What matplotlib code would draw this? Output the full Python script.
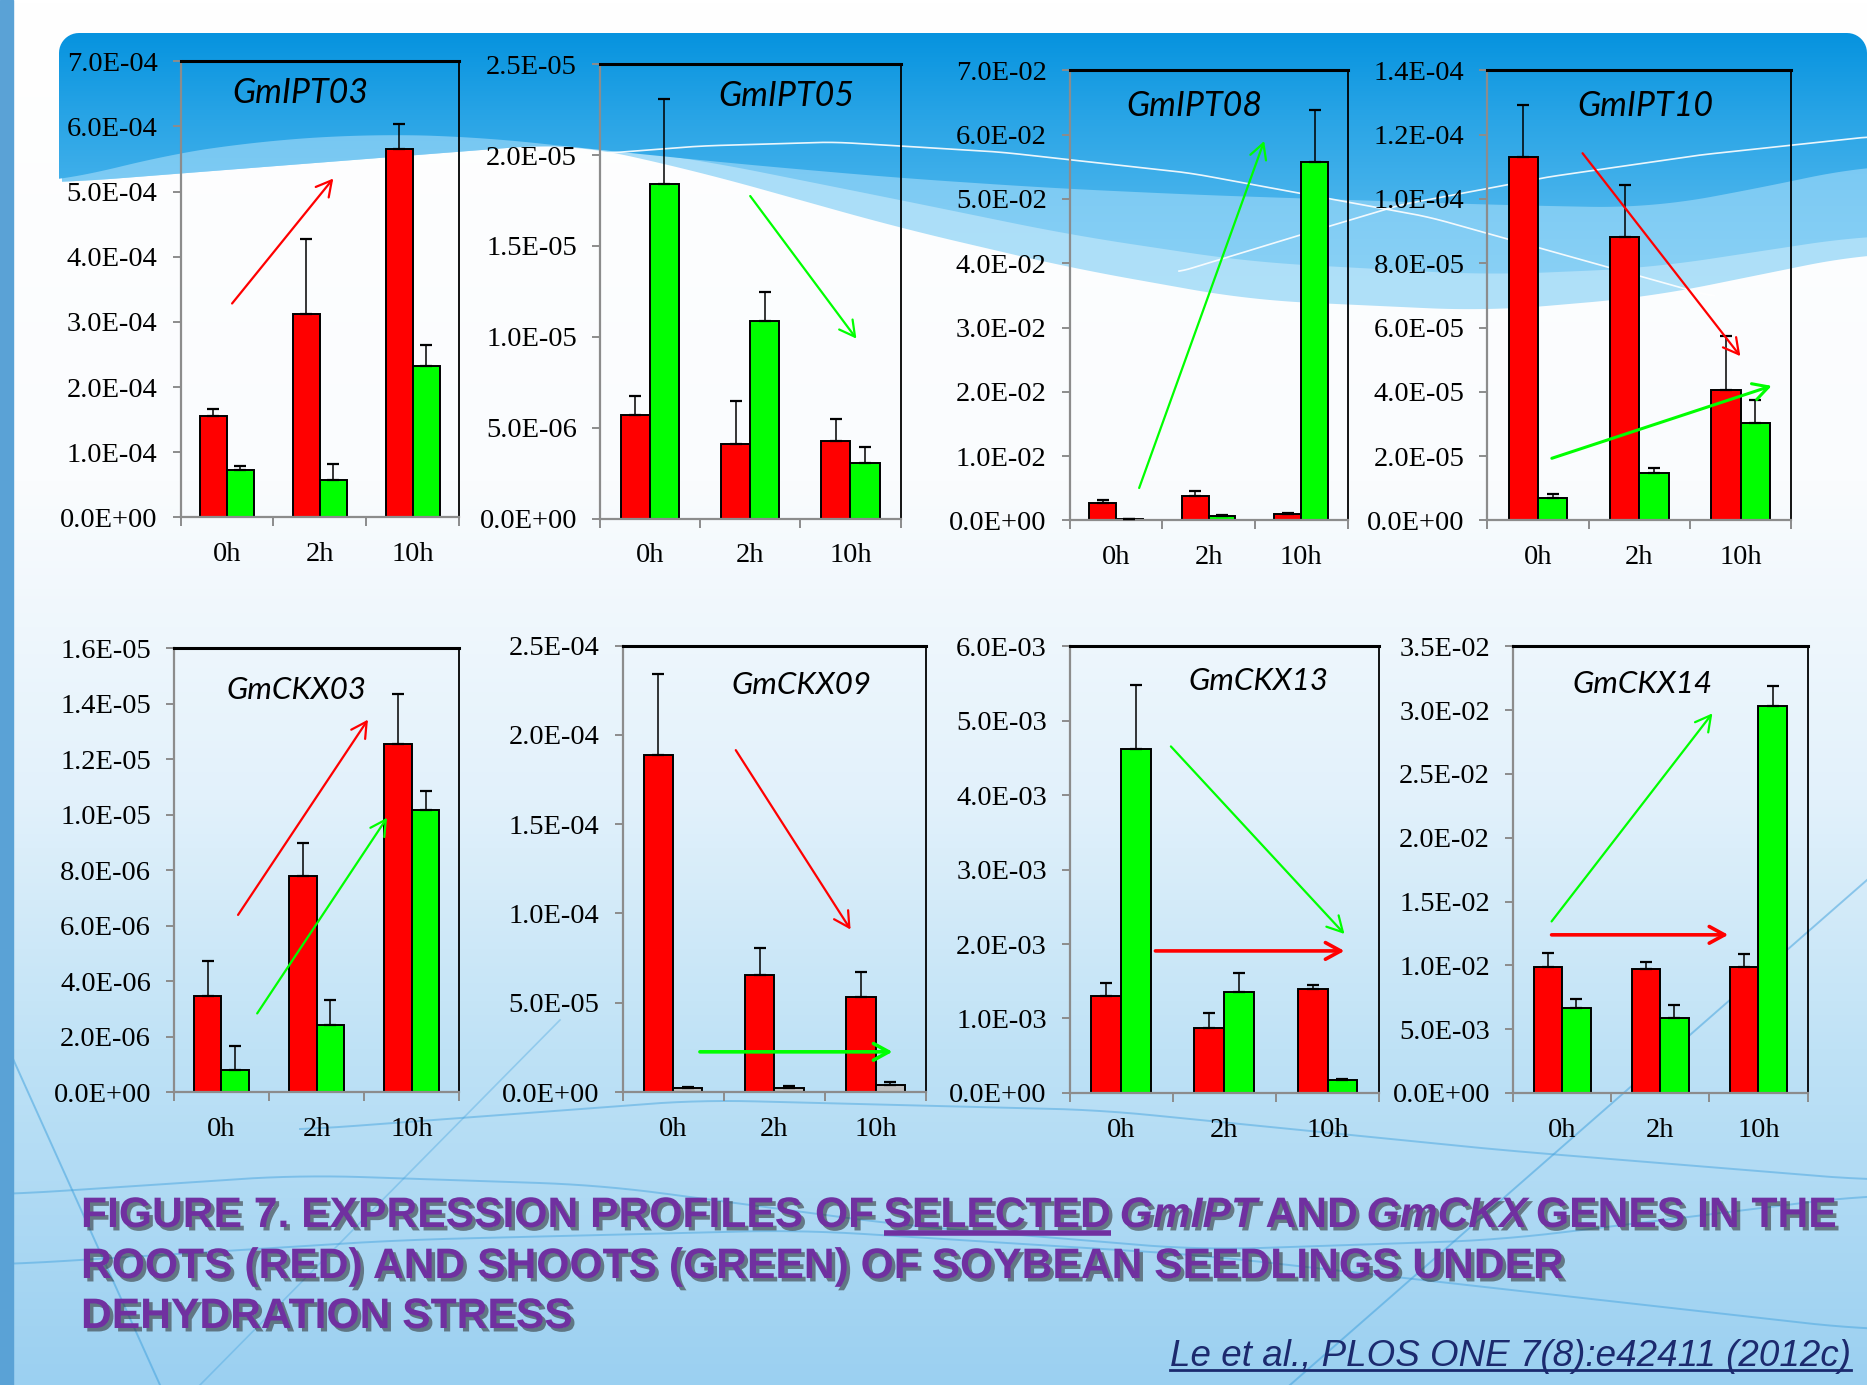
import numpy as np
import matplotlib
matplotlib.use("Agg")
import matplotlib.pyplot as plt
import matplotlib.colors as mcolors
import matplotlib.patheffects as pe
from matplotlib import font_manager
from matplotlib.patches import PathPatch, Rectangle
from matplotlib.path import Path

W, H = 1867, 1385

# ---- datos ----
tiempos = ["0h", "2h", "10h"]
genes = ["GmIPT03", "GmIPT05", "GmIPT08", "GmIPT10",
         "GmCKX03", "GmCKX09", "GmCKX13", "GmCKX14"]

# raices (rojo)
raiz = [
    [1.55e-4, 3.12e-4, 5.66e-4],
    [5.71e-6, 4.09e-6, 4.28e-6],
    [2.70e-3, 3.75e-3, 1.00e-3],
    [1.13e-4, 8.81e-5, 4.05e-5],
    [3.47e-6, 7.80e-6, 1.255e-5],
    [1.89e-4, 6.58e-5, 5.30e-5],
    [1.306e-3, 8.74e-4, 1.40e-3],
    [9.88e-3, 9.71e-3, 9.85e-3],
]
raiz_err = [
    [1.2e-5, 1.15e-4, 3.8e-5],
    [1.05e-6, 2.38e-6, 1.17e-6],
    [4.0e-4, 8.5e-4, 2.0e-4],
    [1.62e-5, 1.62e-5, 1.70e-5],
    [1.24e-6, 1.18e-6, 1.81e-6],
    [4.52e-5, 1.50e-5, 1.44e-5],
    [1.74e-4, 1.96e-4, 5.5e-5],
    [1.07e-3, 5.9e-4, 1.01e-3],
]
# tallos (verde; gris en GmCKX09)
tallo = [
    [7.2e-5, 5.7e-5, 2.33e-4],
    [1.84e-5, 1.089e-5, 3.05e-6],
    [2.0e-4, 7.0e-4, 5.57e-2],
    [6.9e-6, 1.48e-5, 3.02e-5],
    [8.0e-7, 2.42e-6, 1.017e-5],
    [2.4e-6, 2.4e-6, 4.0e-6],
    [4.62e-3, 1.36e-3, 1.68e-4],
    [6.66e-3, 5.88e-3, 3.03e-2],
]
tallo_err = [
    [7e-6, 2.5e-5, 3.1e-5],
    [4.7e-6, 1.58e-6, 9.1e-7],
    [5e-5, 2.0e-4, 8.2e-3],
    [1.4e-6, 1.6e-6, 7.2e-6],
    [8.5e-7, 9.0e-7, 6.7e-7],
    [6e-7, 8e-7, 1.6e-6],
    [8.6e-4, 2.5e-4, 2.2e-5],
    [7.3e-4, 1.02e-3, 1.6e-3],
]
color_tallo = ["#00ff00"] * 5 + ["#c0c0c0"] + ["#00ff00"] * 2
y_max = [7e-4, 2.5e-5, 7e-2, 1.4e-4, 1.6e-5, 2.5e-4, 6e-3, 3.5e-2]
y_paso = [1e-4, 5e-6, 1e-2, 2e-5, 2e-6, 5e-5, 1e-3, 5e-3]

# ---- layout (pixeles: izq, der, arriba, abajo) ----
cajas = [
    (180.5, 459.3, 61.3, 517.4), (599.8, 900.6, 64.3, 518.5),
    (1069.7, 1347.5, 70.4, 520.4), (1487.4, 1791.4, 70.4, 520.4),
    (173.8, 459.3, 648.2, 1092.0), (622.5, 926.2, 645.7, 1092.0),
    (1069.7, 1379.1, 646.4, 1092.9), (1513.0, 1807.5, 646.4, 1092.9),
]
pos_titulo = [(0.43, 0.93), (0.62, 0.93), (0.45, 0.92), (0.52, 0.92),
              (0.43, 0.905), (0.59, 0.913), (0.61, 0.922), (0.44, 0.916)]
tam_titulo = [24.5] * 4 + [22.5] * 4
# flechas de tendencia (fraccion de ejes): color, x0, y0, x1, y1, grosor
flechas = [
    [("#ff0000", 0.185, 0.469, 0.548, 0.743, 1.6)],
    [("#00ff00", 0.50, 0.710, 0.853, 0.396, 1.6)],
    [("#00ff00", 0.25, 0.072, 0.70, 0.843, 1.6)],
    [("#ff0000", 0.313, 0.816, 0.832, 0.365, 1.6),
     ("#00ff00", 0.212, 0.138, 0.935, 0.299, 2.2)],
    [("#ff0000", 0.225, 0.399, 0.68, 0.839, 1.6),
     ("#00ff00", 0.292, 0.177, 0.747, 0.618, 1.6)],
    [("#ff0000", 0.373, 0.766, 0.751, 0.364, 1.6),
     ("#00ff00", 0.255, 0.09, 0.889, 0.09, 2.6)],
    [("#00ff00", 0.327, 0.776, 0.888, 0.356, 1.6),
     ("#ff0000", 0.277, 0.318, 0.888, 0.318, 2.6)],
    [("#00ff00", 0.131, 0.384, 0.677, 0.85, 1.6),
     ("#ff0000", 0.131, 0.354, 0.731, 0.354, 2.6)],
]

plt.rcParams["font.family"] = ["Liberation Serif", "DejaVu Serif"]
fig = plt.figure(figsize=(W / 100, H / 100), dpi=100)

# ---- fondo de la diapositiva ----
bg = fig.add_axes([0, 0, 1, 1])
bg.set_xlim(0, W)
bg.set_ylim(H, 0)
bg.axis("off")


def degradado(y_stops, colores, y0, y1, n=400):
    ys = np.linspace(y0, y1, n)
    cols = np.array([mcolors.to_rgb(c) for c in colores])
    img = np.stack([np.interp(ys, y_stops, cols[:, k]) for k in range(3)], axis=-1)
    return img[:, None, :]


def curva(xk, yk, n=600, suav=41):
    xs = np.linspace(xk[0], xk[-1], n)
    ys = np.interp(xs, xk, yk)
    k = np.ones(suav) / suav
    ys = np.convolve(np.pad(ys, suav // 2, mode="edge"), k, mode="valid")
    return xs, ys


bg.imshow(degradado([0, 480, 800, 1050, 1385],
                    ["#ffffff", "#fafcfe", "#e2f1fb", "#bfe2f6", "#9bd0f1"], 0, H),
          extent=[0, W, H, 0], aspect="auto", zorder=0)

# lineas curvas tenues en la parte baja
for xk, yk in [([0, 300, 600, 900, 1200, 1500, 1867], [1195, 1175, 1185, 1225, 1250, 1240, 1195]),
               ([0, 400, 800, 1200, 1600, 1867], [1265, 1240, 1230, 1255, 1300, 1330]),
               ([300, 700, 1100, 1500, 1867], [1130, 1100, 1110, 1150, 1180])]:
    xs, ys = curva(xk, yk)
    bg.plot(xs, ys, color="#3d9fdc", lw=1.4, alpha=0.45, zorder=1)
bg.plot([1290, 1867], [1385, 880], color="#3d9fdc", lw=1.4, alpha=0.5, zorder=1)
bg.plot([0, 160], [1030, 1385], color="#3d9fdc", lw=1.4, alpha=0.5, zorder=1)
bg.plot([200, 560], [1385, 1020], color="#3d9fdc", lw=1.2, alpha=0.35, zorder=1)
bg.add_patch(Rectangle((0, 0), 12.5, H, color="#5aa2d6", zorder=2))

# capas de la banda azul superior
xs3, ys3 = curva([59, 571, 700, 900, 1071, 1250, 1488, 1650, 1867],
                 [183, 143, 172, 228, 268, 300, 311, 297, 253])
xs2, ys2 = curva([59, 571, 700, 900, 1071, 1250, 1488, 1650, 1867],
                 [183, 143, 160, 200, 235, 262, 275, 268, 235])
xs1, ys1 = curva([59, 150, 250, 369, 480, 600, 750, 900, 1050, 1200, 1350, 1500, 1650, 1760, 1867],
                 [183, 158, 142, 134, 137, 150, 165, 178, 188, 195, 200, 205, 208, 188, 165])


def poligono(xs, ys, arriba=60):
    v = [(xs[0], arriba), (xs[-1], arriba)] + list(zip(xs[::-1], ys[::-1]))
    return PathPatch(Path(v, closed=True), transform=bg.transData)


for xs, ys, cols in [(xs3, ys3, ["#a4dbf8", "#b1e1f9"]), (xs2, ys2, ["#6ec3f1", "#8ed3f6"])]:
    p = poligono(xs, ys)
    im = bg.imshow(degradado([60, 320], cols, 60, 320), extent=[0, W, 320, 60],
                   aspect="auto", zorder=3)
    im.set_clip_path(p)

r = 20
top = 33
ang1 = np.linspace(np.pi, 1.5 * np.pi, 12)
ang2 = np.linspace(1.5 * np.pi, 2 * np.pi, 12)
v = [(xs1[0], ys1[0])]
v += [(59 + r + r * np.cos(a), top + r + r * np.sin(a)) for a in ang1]
v += [(W - r + r * np.cos(a), top + r + r * np.sin(a)) for a in ang2]
v += list(zip(xs1[::-1], ys1[::-1]))
banda = PathPatch(Path(v, closed=True), transform=bg.transData)
im = bg.imshow(degradado([33, 120, 210], ["#0693df", "#2aa5e6", "#4ab4ec"], 33, 210),
               extent=[0, W, 210, 33], aspect="auto", zorder=4)
im.set_clip_path(banda)

# lineas blancas finas
for xk, yk in [([583, 700, 833, 1000, 1190, 1429, 1714], [155, 146, 142, 152, 173, 217, 297]),
               ([1179, 1300, 1400, 1548, 1700, 1867], [272, 235, 205, 177, 155, 137])]:
    xs, ys = curva(xk, yk, suav=21)
    bg.plot(xs, ys, color="white", lw=1.2, alpha=0.9, zorder=5)

# ---- paneles ----
ancho = 0.29
x = np.arange(len(tiempos))
for i, gen in enumerate(genes):
    l, rr, t, b = cajas[i]
    ax = fig.add_axes([l / W, 1 - b / H, (rr - l) / W, (b - t) / H])
    ax.set_facecolor("none")
    ax.bar(x - ancho / 2, raiz[i], ancho, color="#ff0000", edgecolor="black", lw=1.4, zorder=2)
    ax.bar(x + ancho / 2, tallo[i], ancho, color=color_tallo[i], edgecolor="black", lw=1.4, zorder=2)
    ax.errorbar(x - ancho / 2, raiz[i], yerr=[np.zeros(3), raiz_err[i]], fmt="none",
                ecolor="black", elinewidth=1.1, capsize=4, capthick=1.6, zorder=3)
    ax.errorbar(x + ancho / 2, tallo[i], yerr=[np.zeros(3), tallo_err[i]], fmt="none",
                ecolor="black", elinewidth=1.1, capsize=4, capthick=1.6, zorder=3)

    ax.set_xlim(-0.5, 2.5)
    ax.set_ylim(0, y_max[i])
    yt = np.arange(0, y_max[i] + y_paso[i] / 2, y_paso[i])
    ax.set_yticks(yt)
    ax.set_yticklabels([f"{v:.1E}" for v in yt])
    ax.set_xticks([-0.5, 0.5, 1.5, 2.5])
    ax.set_xticklabels([])
    ax.set_xticks(x, minor=True)
    ax.set_xticklabels(tiempos, minor=True)
    ax.tick_params(axis="x", which="major", length=6.5, width=1.4, color="#8c8c8c")
    ax.tick_params(axis="x", which="minor", length=0, pad=18, labelsize=20.5)
    ax.tick_params(axis="y", length=5.5, width=1.4, color="#8c8c8c", pad=11, labelsize=20.5)
    for s in ["left", "bottom"]:
        ax.spines[s].set_color("#8c8c8c")
        ax.spines[s].set_linewidth(1.6)
    ax.spines["top"].set_linewidth(2.2)
    ax.spines["right"].set_linewidth(1.3)

    ax.text(pos_titulo[i][0], pos_titulo[i][1], gen, transform=ax.transAxes,
            family=["Lato", "DejaVu Sans"], style="italic", fontsize=tam_titulo[i],
            ha="center", va="center")
    for c, x0, y0, x1, y1, lw in flechas[i]:
        ax.annotate("", xy=(x1, y1), xytext=(x0, y0), xycoords="axes fraction",
                    arrowprops=dict(arrowstyle="->,head_length=0.55,head_width=0.3",
                                    color=c, lw=lw, mutation_scale=20,
                                    shrinkA=0, shrinkB=0), zorder=4)

# ---- titulo de la diapositiva ----
disponibles = {f.name for f in font_manager.fontManager.ttflist}
angosta = "Liberation Sans Narrow" if "Liberation Sans Narrow" in disponibles else "Liberation Sans"
renderer = fig.canvas.get_renderer()
sombra = [pe.SimplePatchShadow(offset=(2.5, -2.5), shadow_rgbFace="#2a2a2a", alpha=0.55), pe.Normal()]

lineas = [
    [("FIGURE 7. EXPRESSION PROFILES OF", "normal", False),
     ("SELECTED", "normal", True), ("GmIPT", "italic", False), ("AND", "normal", False),
     ("GmCKX", "italic", False), ("GENES IN THE", "normal", False)],
    [("ROOTS (RED) AND SHOOTS (GREEN) OF SOYBEAN SEEDLINGS UNDER", "normal", False)],
    [("DEHYDRATION STRESS", "normal", False)],
]
bases = [1227, 1278, 1328]


def escribir(partes, x, y, size, color, subr_lw=4):
    artistas = []
    esp = None
    for texto, estilo, subr in partes:
        t = bg.text(x, y, texto, family=angosta, fontstretch="condensed", weight="bold",
                    style=estilo, fontsize=size, color=color, va="baseline", ha="left",
                    zorder=6, path_effects=sombra)
        bb = t.get_window_extent(renderer)
        if esp is None:
            a = bg.text(0, 0, "A A", family=angosta, weight="bold", fontsize=size)
            b2 = bg.text(0, 0, "AA", family=angosta, weight="bold", fontsize=size)
            esp = a.get_window_extent(renderer).width - b2.get_window_extent(renderer).width
            a.remove()
            b2.remove()
        if subr:
            ln, = bg.plot([x, x + bb.width], [y + 6, y + 6], color=color, lw=subr_lw,
                          solid_capstyle="butt", zorder=6, path_effects=sombra)
            artistas.append(ln)
        artistas.append(t)
        x += bb.width + esp
    return artistas, x - esp


arts, fin = escribir(lineas[0], 81, bases[0], 30, "#7030a0")
tam = 30 * (1834 - 81) / (fin - 81)
for a in arts:
    a.remove()
for partes, yb in zip(lineas, bases):
    escribir(partes, 81, yb, tam, "#7030a0")

cita = bg.text(1851, 1366, "Le et al., PLOS ONE 7(8):e42411 (2012c)", family=angosta,
               fontstretch="condensed", style="italic", fontsize=26, color="#1c2a6e",
               ha="right", va="baseline", zorder=6)
bb = cita.get_window_extent(renderer)
cita.set_fontsize(26 * 681 / bb.width)
bb = cita.get_window_extent(renderer)
bg.plot([1851 - bb.width, 1851], [1370, 1370], color="#1c2a6e", lw=2, zorder=6)

fig.savefig("out.png", dpi=100)
